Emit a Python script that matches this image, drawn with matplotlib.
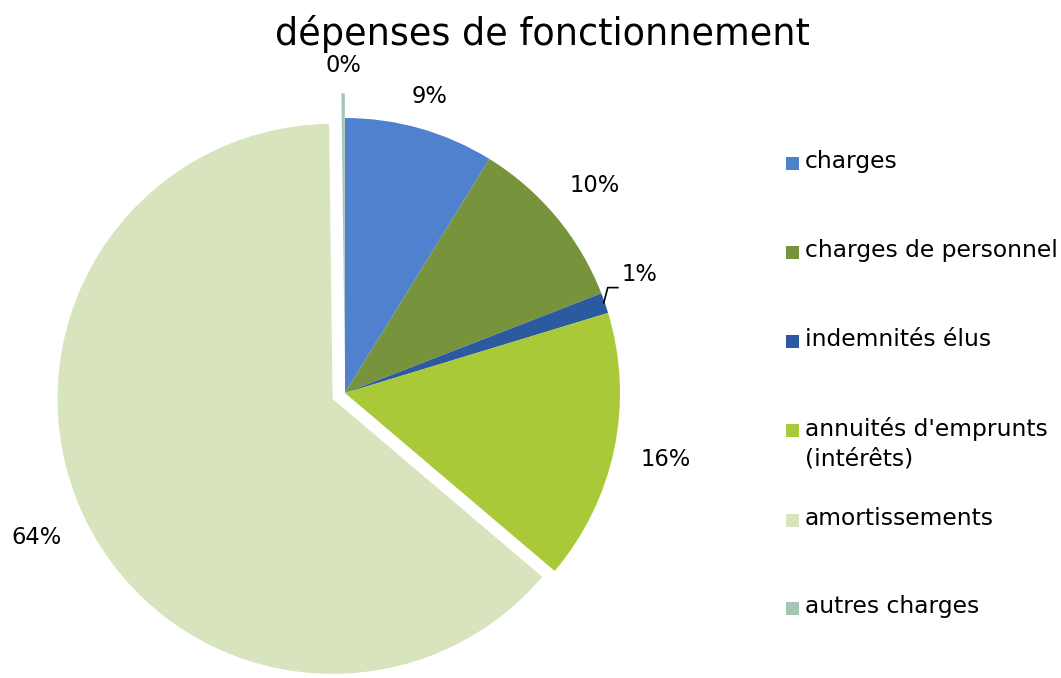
import matplotlib
matplotlib.use("Agg")
import matplotlib.pyplot as plt
import matplotlib.patches as mpatches
import numpy as np

categories = ["charges", "charges de personnel", "indemnités élus",
              "annuités d'emprunts\n(intérêts)", "amortissements", "autres charges"]
values = [8.8, 10.3, 1.2, 15.9, 63.6, 0.2]
colors = ["#4F81CF", "#77933C", "#2C5AA0", "#A9C938", "#D7E4BD", "#A5C6B5"]
explode = [0, 0, 0, 0, 0.05, 0.09]
title = "dépenses de fonctionnement"

W, H = 1061, 678
fig = plt.figure(figsize=(W / 100, H / 100), dpi=100)
plt.rcParams['font.family'] = ['DejaVu Sans']

R = 275.0
cx, cy = 345.0, 393.0
a = 1.25
side = 2 * a * R
ax = fig.add_axes([(cx - a * R) / W, (H - cy - a * R) / H, side / W, side / H])

wedges, _ = ax.pie(values, colors=colors, explode=explode, startangle=90,
                   counterclock=False, radius=1.0,
                   wedgeprops=dict(linewidth=0))
ax.set_xlim(-a, a)
ax.set_ylim(-a, a)
ax.set_aspect('auto')
ax.axis('off')

LFS = 16.3
label_r = [1.12, 1.18, None, 1.19, 1.14, 1.19]
cum = np.cumsum([0] + values[:-1])
for i, (v, c0) in enumerate(zip(values, cum)):
    txt = f"{v:.0f}%"
    mid = c0 + v / 2
    ang = np.deg2rad(90 - mid * 3.6)
    if i == 2:
        ex, ey = np.cos(ang) * 0.995, np.sin(ang) * 0.995
        ax.plot([ex, ex + 0.015, ex + 0.055], [ey, ey + 0.058, ey + 0.058],
                color='black', lw=1.2, solid_capstyle='butt')
        ax.text(ex + 0.065, ey + 0.105, txt, fontsize=LFS, ha='left', va='center')
        continue
    r = label_r[i]
    if i == 4:
        x, y = -308 / R, -144 / R
    elif i == 5:
        x, y = -2 / R, 327 / R
    else:
        x, y = np.cos(ang) * r, np.sin(ang) * r
    ax.text(x, y, txt, fontsize=LFS, ha='center', va='center')

fig.text(542 / W, 1 - 34 / H, title, fontsize=26.4, ha='center', va='center')

# legend
ys = [163, 252, 341, 430, 520, 608]
for lab, col, y in zip(categories, colors, ys):
    fig.patches.append(mpatches.Rectangle((786 / W, 1 - (y + 6.5) / H), 13 / W, 13 / H,
                                          transform=fig.transFigure, facecolor=col,
                                          edgecolor='none'))
    fig.text(805 / W, 1 - (y - 13) / H, lab, fontsize=16.8, ha='left', va='top',
             linespacing=1.35)

fig.savefig("out.png", dpi=100)
